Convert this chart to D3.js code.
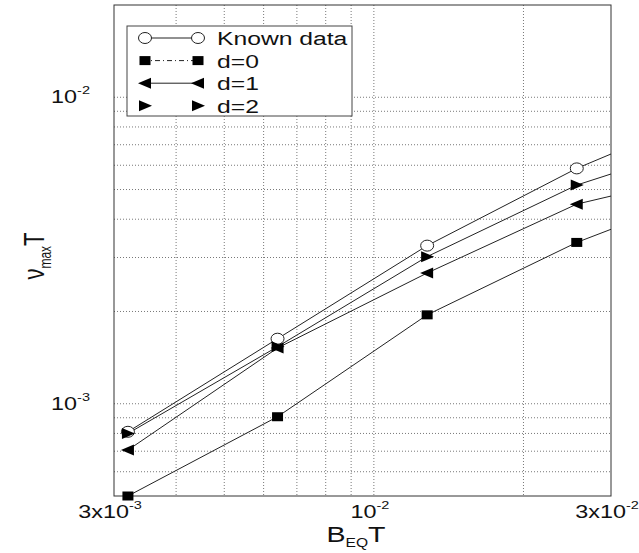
<!DOCTYPE html>
<html>
<head>
<meta charset="utf-8">
<script src="https://cdn.jsdelivr.net/npm/d3@7"></script>
<style>
body { margin: 0; background: #fff; }
text { font-family: "Liberation Sans", Arial, sans-serif; fill: #111; }
</style>
</head>
<body>
<svg id="chart" width="639" height="553"></svg>
<script>
// data (the last point lies past the right edge, the lines run into it)
const xValues = [0.0032, 0.0064, 0.0128, 0.0256, 0.0512];
const knownValues = [8.1e-4, 1.63e-3, 3.28e-3, 5.86e-3, 9.4e-3];
const d0Values = [5.0e-4, 9.07e-4, 1.95e-3, 3.36e-3, 5.17e-3];
const d1Values = [7.06e-4, 1.52e-3, 2.67e-3, 4.48e-3, 5.84e-3];
const d2Values = [8.0e-4, 1.535e-3, 3.02e-3, 5.17e-3, 7.44e-3];
const seriesNames = ["Known data", "d=0", "d=1", "d=2"];
const xTicks = [0.003, 0.01, 0.03];
const xTickLabels = [["3x10", "-3"], ["10", "-2"], ["3x10", "-2"]];
const yTicks = [0.001, 0.01];
const yTickLabels = [["10", "-3"], ["10", "-2"]];

const width = 639, height = 553;
const margin = {top: 5, right: 28, bottom: 57, left: 114};
const stretch = 1.3; // the scan is wider than tall

const svg = d3.select("#chart");

const x = d3.scaleLog().domain([0.003, 0.03]).range([margin.left, width - margin.right]);
const y = d3.scaleLog().domain([5e-4, 2e-2]).range([height - margin.bottom, margin.top]);

// Grid
const xGridVals = d3.range(4, 10).map(k => k * 1e-3).concat([0.01, 0.02]);
const yGridVals = d3.range(6, 10).map(k => k * 1e-4)
    .concat(d3.range(1, 10).map(k => k * 1e-3))
    .concat([0.01]);

svg.append("g")
    .selectAll("line")
    .data(xGridVals)
    .join("line")
    .attr("x1", d => x(d)).attr("x2", d => x(d))
    .attr("y1", margin.top).attr("y2", height - margin.bottom)
    .attr("stroke", "#555").attr("stroke-width", 0.8)
    .attr("stroke-dasharray", "1,2");

svg.append("g")
    .selectAll("line")
    .data(yGridVals)
    .join("line")
    .attr("y1", d => y(d)).attr("y2", d => y(d))
    .attr("x1", margin.left).attr("x2", width - margin.right)
    .attr("stroke", "#555").attr("stroke-width", 0.8)
    .attr("stroke-dasharray", "1,2");

// Frame
svg.append("rect")
    .attr("x", margin.left).attr("y", margin.top)
    .attr("width", width - margin.left - margin.right)
    .attr("height", height - margin.top - margin.bottom)
    .attr("fill", "none").attr("stroke", "#333").attr("stroke-width", 1);

// Tick labels
function powText(g, px, py, parts, size, anchor) {
    let t = g.append("text")
        .attr("transform", `translate(${px},${py}) scale(${stretch},1)`)
        .attr("text-anchor", anchor)
        .style("font-size", size + "px");
    t.append("tspan").text(parts[0]);
    t.append("tspan").attr("dy", -9).style("font-size", (size * 0.62) + "px").text(parts[1]);
    return t;
}

let tickG = svg.append("g");
xTicks.forEach((v, i) => {
    powText(tickG, x(v) - 4, 518, xTickLabels[i], 18, "middle");
});
yTicks.forEach((v, i) => {
    powText(tickG, 90, y(v) + 6, yTickLabels[i], 18, "end");
});

// Axis titles
let xt = svg.append("text")
    .attr("transform", `translate(356,542) scale(${stretch},1)`)
    .attr("text-anchor", "middle")
    .style("font-size", "22px");
xt.append("tspan").text("B");
xt.append("tspan").attr("dy", 5).style("font-size", "12px").text("EQ");
xt.append("tspan").attr("dy", -5).text("T");

let yt = svg.append("text")
    .attr("transform", `translate(44,256) rotate(-90) scale(1,${stretch})`)
    .attr("text-anchor", "middle")
    .style("font-size", "22px");
yt.append("tspan").text("\u03bd");
yt.append("tspan").attr("dy", 5).style("font-size", "12px").text("max");
yt.append("tspan").attr("dy", -5).text("T");

// Series
const series = [
    {name: seriesNames[0], values: knownValues, marker: "circle"},
    {name: seriesNames[1], values: d0Values, marker: "square"},
    {name: seriesNames[2], values: d1Values, marker: "left"},
    {name: seriesNames[3], values: d2Values, marker: "right"}
];

svg.append("clipPath").attr("id", "plot-clip")
    .append("rect")
    .attr("x", margin.left).attr("y", margin.top)
    .attr("width", width - margin.left - margin.right)
    .attr("height", height - margin.top - margin.bottom);

const line = d3.line().x(d => x(d[0])).y(d => y(d[1]));

function drawMarker(g, type, cx, cy) {
    if (type == "circle") {
        g.append("ellipse").attr("cx", cx).attr("cy", cy).attr("rx", 6.5).attr("ry", 5.5)
            .attr("fill", "#fff").attr("stroke", "#222").attr("stroke-width", 1);
    } else if (type == "square") {
        g.append("rect").attr("x", cx - 5.5).attr("y", cy - 4.5).attr("width", 11).attr("height", 9)
            .attr("fill", "#000");
    } else if (type == "left") {
        g.append("path").attr("d", `M${cx - 7},${cy} L${cx + 6},${cy - 5.5} L${cx + 6},${cy + 5.5} Z`)
            .attr("fill", "#000");
    } else {
        g.append("path").attr("d", `M${cx + 7},${cy} L${cx - 6},${cy - 5.5} L${cx - 6},${cy + 5.5} Z`)
            .attr("fill", "#000");
    }
}

series.forEach(s => {
    let pts = xValues.map((v, i) => [v, s.values[i]]);
    svg.append("path")
        .datum(pts)
        .attr("d", line)
        .attr("clip-path", "url(#plot-clip)")
        .attr("fill", "none")
        .attr("stroke", "#222")
        .attr("stroke-width", 1);
});

series.forEach(s => {
    let g = svg.append("g");
    xValues.forEach((v, i) => {
        if (v <= x.domain()[1]) drawMarker(g, s.marker, x(v), y(s.values[i]));
    });
});

// Legend
let legend = svg.append("g");
legend.append("rect")
    .attr("x", 127).attr("y", 26).attr("width", 225).attr("height", 90)
    .attr("fill", "#fff").attr("stroke", "#444").attr("stroke-width", 1);

const legendDash = [null, "5,3,1,3", null, "0,100"];
series.forEach((s, i) => {
    let ly = 38 + i * 22.6;
    legend.append("line")
        .attr("x1", 143).attr("x2", 200).attr("y1", ly).attr("y2", ly)
        .attr("stroke", "#222").attr("stroke-width", 1)
        .attr("stroke-dasharray", legendDash[i]);
    drawMarker(legend, s.marker, 145, ly);
    drawMarker(legend, s.marker, 198, ly);
    legend.append("text")
        .attr("transform", `translate(217,${ly + 7}) scale(${stretch},1)`)
        .style("font-size", "19px")
        .text(s.name);
});
</script>
</body>
</html>
